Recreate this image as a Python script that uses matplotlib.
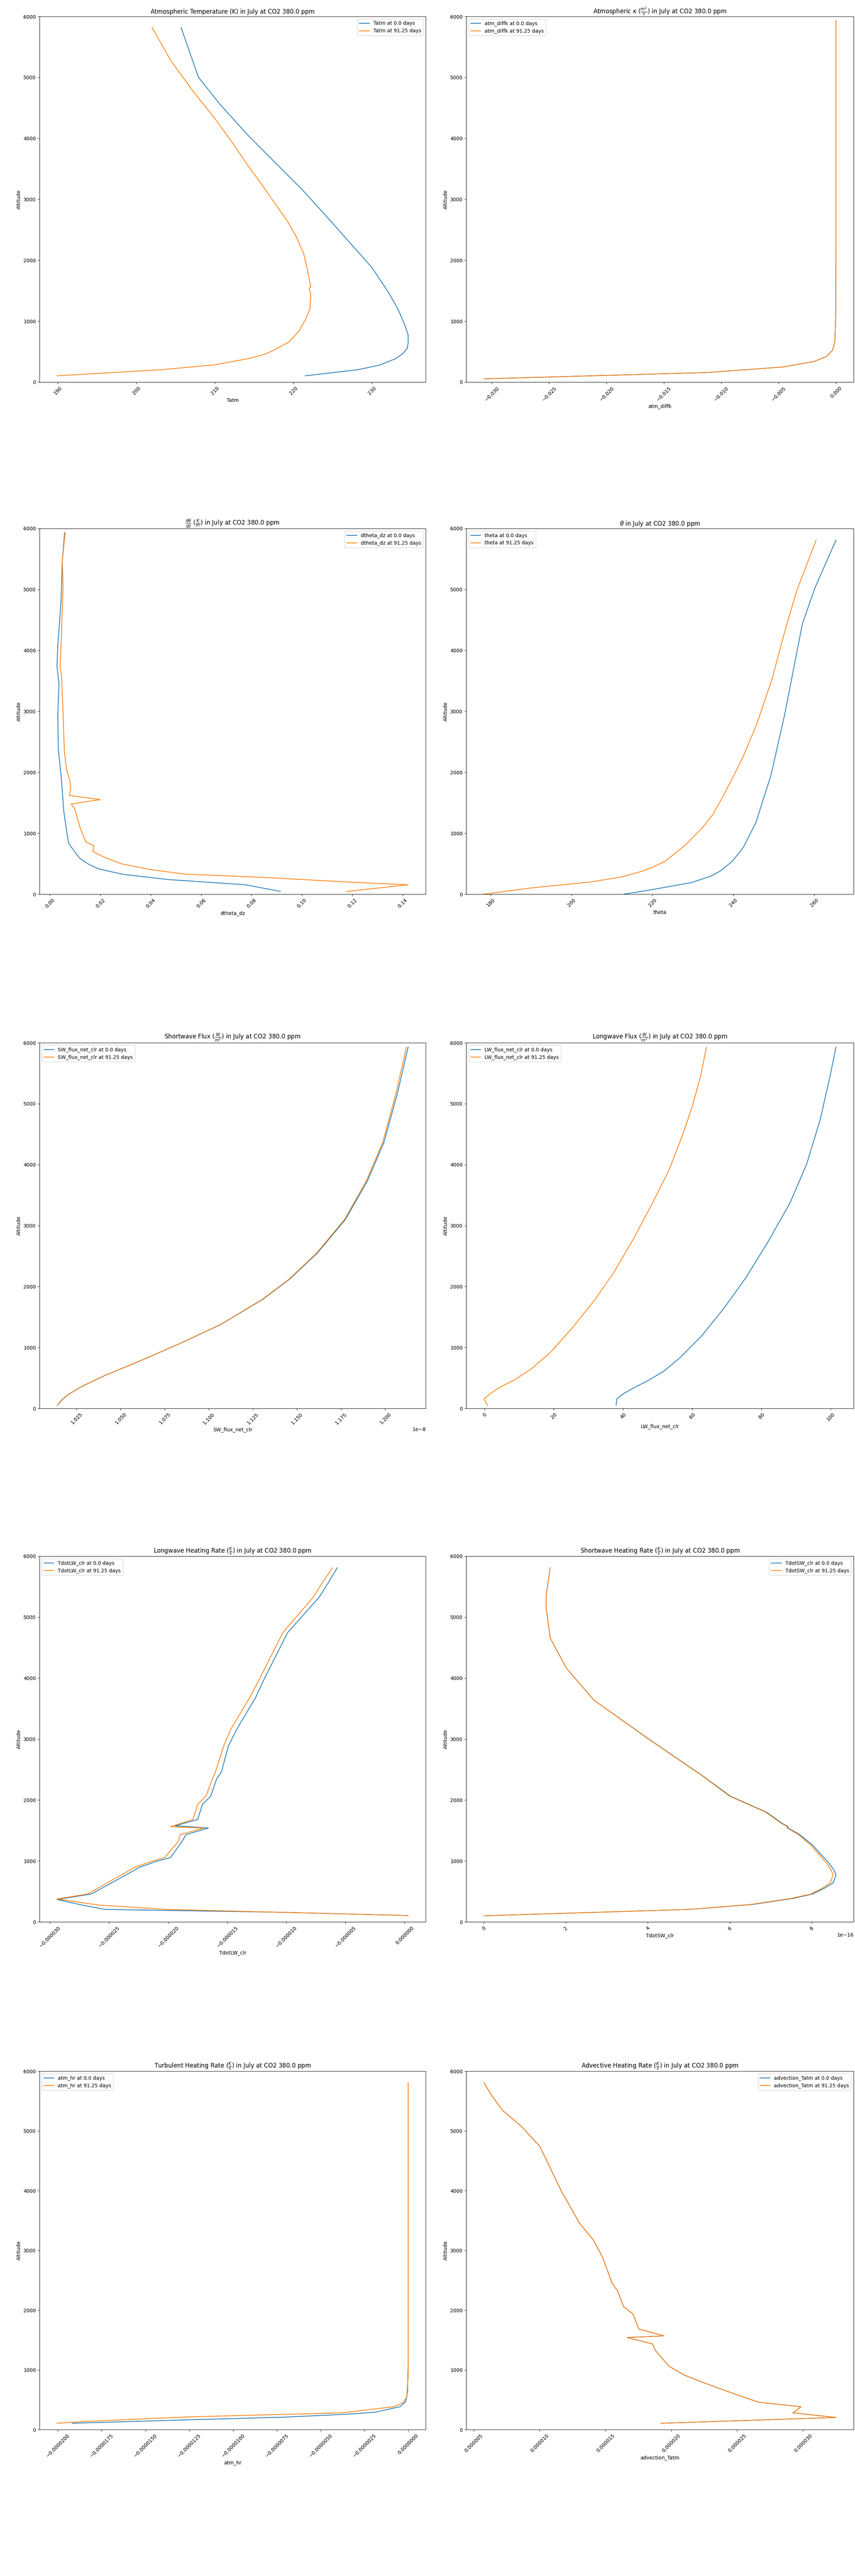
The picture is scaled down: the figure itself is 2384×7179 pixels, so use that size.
import numpy as np
import matplotlib
matplotlib.use("Agg")
import matplotlib.pyplot as plt

# older matplotlib default: plain numbers down to 1e-7
plt.rcParams['axes.formatter.limits'] = [-7, 7]

W, H = 2384, 7179
TAIL = " in July at CO2 380.0 ppm"

# Tatm
z_tatm0 = [104, 204, 281, 385, 466, 557, 657, 770, 928, 1200, 1472, 1879, 2242, 2649, 3147, 3600, 4053, 4551, 5004, 5819]
tatm0 = [221.5, 228.2, 231.0, 233.0, 233.9, 234.5, 234.6, 234.6, 234.2, 233.3, 232.1, 230.0, 227.5, 224.7, 221.2, 217.7, 214.2, 210.7, 207.9, 205.7]
z_tatm1 = [104, 204, 285, 385, 462, 566, 657, 838, 1019, 1200, 1449, 1540, 1562, 1834, 2106, 2377, 2649, 2921, 3238, 3555, 3917, 4325, 4777, 5275, 5819]
tatm1 = [189.9, 203.2, 210.0, 214.2, 216.5, 218.1, 219.4, 220.7, 221.5, 222.1, 222.2, 222.0, 222.2, 221.8, 221.3, 220.4, 219.2, 217.7, 216.0, 214.2, 212.3, 210.0, 207.2, 204.4, 202.0]

# atm_diffk
z_diffk = [54, 158, 249, 340, 421, 521, 657, 1064, 2195, 5932]
diffk0 = [-0.0307, -0.0112, -0.0046, -0.0019, -0.00084, -0.0003, -0.0001, -0.00002, 0.0, 0.0]
diffk1 = [-0.0307, -0.0112, -0.0046, -0.0019, -0.00084, -0.0003, -0.0001, -0.00002, 0.0, 0.0]

# dtheta_dz
z_dth0 = [45, 154, 240, 326, 417, 498, 589, 725, 838, 1042, 1358, 1857, 2400, 2943, 3441, 3735, 4075, 4800, 5456, 5932]
dth0 = [0.0915, 0.0777, 0.0470, 0.0290, 0.0191, 0.0151, 0.0118, 0.0093, 0.0074, 0.0066, 0.0055, 0.0046, 0.0033, 0.0031, 0.0036, 0.0028, 0.0031, 0.0044, 0.0049, 0.0058]
z_dth1 = [45, 154, 195, 272, 331, 408, 498, 611, 702, 792, 860, 1086, 1403, 1480, 1552, 1620, 1743, 1865, 2037, 2354, 2988, 3577, 3735, 4075, 5049, 5456, 5932]
dth1 = [0.1178, 0.1422, 0.1203, 0.0864, 0.0530, 0.0394, 0.0284, 0.0213, 0.0170, 0.0175, 0.0142, 0.0120, 0.0098, 0.0084, 0.0200, 0.0077, 0.0082, 0.0079, 0.0066, 0.0057, 0.0052, 0.0046, 0.0040, 0.0044, 0.0052, 0.0049, 0.0060]

# theta
z_th0 = [0, 77, 190, 294, 385, 543, 770, 1177, 1947, 2943, 3622, 4438, 5027, 5811]
theta0 = [213.0, 220.1, 229.6, 234.4, 236.9, 239.8, 242.5, 245.6, 249.3, 252.7, 254.7, 257.1, 260.2, 265.4]
z_th1 = [0, 104, 167, 199, 281, 376, 444, 543, 815, 1087, 1313, 1562, 1902, 2265, 2808, 3532, 4302, 4981, 5811]
theta1 = [178.3, 190.2, 199.7, 204.5, 212.3, 217.4, 220.1, 223.2, 228.3, 232.3, 235.0, 237.1, 239.8, 242.5, 245.9, 249.6, 252.7, 255.7, 260.5]

# SW_flux_net_clr (x 1e-8)
z_swf = [50, 154, 235, 367, 539, 765, 1060, 1377, 1785, 2124, 2554, 3098, 3732, 4366, 5180, 5928]
swf0 = [1.0142, 1.0173, 1.0208, 1.0286, 1.0411, 1.0600, 1.0834, 1.1069, 1.1304, 1.1460, 1.1617, 1.1774, 1.1899, 1.1993, 1.2070, 1.2130]
swf1 = [1.0140, 1.0171, 1.0206, 1.0284, 1.0409, 1.0598, 1.0832, 1.1067, 1.1301, 1.1457, 1.1613, 1.1769, 1.1893, 1.1986, 1.2062, 1.2120]

# LW_flux_net_clr
z_lwf = [50, 154, 245, 358, 449, 607, 833, 1196, 1648, 2146, 2735, 3369, 4003, 4728, 5452, 5928]
lwf0 = [38.0, 38.2, 40.2, 43.8, 47.0, 51.7, 56.5, 62.8, 69.2, 75.5, 81.9, 88.2, 93.0, 96.9, 99.8, 101.5]
z_lwf1 = [50, 154, 245, 358, 471, 652, 924, 1331, 1785, 2237, 2780, 3369, 3912, 4501, 4954, 5452, 5928]
lwf1 = [0.9, -0.2, 1.7, 4.8, 8.8, 13.6, 19.1, 25.5, 31.9, 37.4, 43.0, 48.5, 53.3, 57.3, 60.0, 62.4, 64.1]

# TdotLW_clr (x 1e-6)
z_lwhr0 = [104, 159, 204, 276, 367, 457, 670, 897, 987, 1055, 1327, 1431, 1540, 1576, 1680, 1929, 2061, 2346, 2459, 2889, 3160, 3681, 3975, 4745, 5334, 5583, 5810]
lwhr0 = [0.3, -10.9, -25.3, -27.3, -29.4, -26.5, -24.5, -22.4, -21.1, -19.8, -18.8, -18.5, -16.6, -19.4, -17.5, -17.1, -16.4, -15.9, -15.5, -14.9, -14.2, -12.6, -11.9, -9.9, -7.2, -6.4, -5.7]
z_lwhr1 = [104, 204, 276, 376, 457, 657, 897, 987, 1055, 1327, 1431, 1540, 1562, 1680, 1929, 2061, 2323, 2459, 2889, 3160, 3681, 3975, 4745, 5334, 5583, 5810]
lwhr1 = [0.3, -20.1, -25.9, -29.4, -26.8, -25.0, -22.8, -21.5, -20.3, -19.1, -19.0, -17.0, -19.8, -17.9, -17.5, -16.8, -16.3, -16.0, -15.3, -14.7, -13.1, -12.3, -10.3, -7.7, -6.9, -6.1]

# TdotSW_clr (x 1e-16)
z_swhr = [100, 204, 285, 385, 457, 557, 639, 770, 842, 965, 1259, 1440, 1540, 1567, 1612, 1802, 2061, 2391, 3002, 3636, 4157, 4655, 5153, 5357, 5810]
swhr0 = [0.0, 5.02, 6.55, 7.55, 8.02, 8.32, 8.52, 8.59, 8.55, 8.42, 8.02, 7.69, 7.42, 7.42, 7.29, 6.89, 6.02, 5.35, 4.02, 2.69, 2.02, 1.62, 1.52, 1.52, 1.62]
swhr1 = [0.0, 5.00, 6.50, 7.50, 7.98, 8.27, 8.45, 8.52, 8.48, 8.36, 7.98, 7.66, 7.40, 7.40, 7.27, 6.87, 6.00, 5.34, 4.01, 2.69, 2.02, 1.62, 1.52, 1.52, 1.62]

# atm_hr (x 1e-6)
z_hr0 = [106, 166, 208, 258, 291, 383, 461, 545, 660, 1122, 5806]
hr0 = [-19.18, -12.28, -7.09, -3.46, -1.89, -0.47, -0.16, -0.08, -0.03, 0.0, 0.0]
z_hr1 = [106, 134, 212, 281, 351, 383, 452, 545, 891, 5806]
hr1 = [-20.05, -18.58, -12.6, -3.78, -1.73, -0.82, -0.28, -0.08, 0.0, 0.0]

# advection_Tatm (x 1e-6)
z_adv = [106, 203, 281, 383, 457, 660, 798, 914, 1061, 1329, 1435, 1541, 1569, 1684, 1929, 2058, 2321, 2460, 2875, 3175, 3452, 3821, 3983, 4744, 5090, 5344, 5575, 5806]
adv = [19.24, 32.5, 29.23, 29.85, 26.65, 24.0, 22.3, 20.97, 19.82, 18.78, 18.57, 16.65, 19.45, 17.53, 17.11, 16.38, 15.92, 15.48, 14.81, 14.08, 13.04, 12.1, 11.68, 10.01, 8.55, 7.19, 6.42, 5.77]

panels = [
    ("Tatm", "Atmospheric Temperature (K)", (z_tatm0, tatm0), (z_tatm1, tatm1), 1, "upper right"),
    ("atm_diffk", r"Atmospheric $\kappa$ ($\frac{m^2}{s}$)", (z_diffk, diffk0), (z_diffk, diffk1), 1, "upper left"),
    ("dtheta_dz", r"$\frac{d\theta}{dz}$ ($\frac{K}{m}$)", (z_dth0, dth0), (z_dth1, dth1), 1, "upper right"),
    ("theta", r"$\theta$", (z_th0, theta0), (z_th1, theta1), 1, "upper left"),
    ("SW_flux_net_clr", r"Shortwave Flux ($\frac{W}{m^2}$)", (z_swf, swf0), (z_swf, swf1), 1e-8, "upper left"),
    ("LW_flux_net_clr", r"Longwave Flux ($\frac{W}{m^2}$)", (z_lwf, lwf0), (z_lwf1, lwf1), 1, "upper left"),
    ("TdotLW_clr", r"Longwave Heating Rate ($\frac{K}{s}$)", (z_lwhr0, lwhr0), (z_lwhr1, lwhr1), 1e-6, "upper left"),
    ("TdotSW_clr", r"Shortwave Heating Rate ($\frac{K}{s}$)", (z_swhr, swhr0), (z_swhr, swhr1), 1e-16, "upper right"),
    ("atm_hr", r"Turbulent Heating Rate ($\frac{K}{s}$)", (z_hr0, hr0), (z_hr1, hr1), 1e-6, "upper left"),
    ("advection_Tatm", r"Advective Heating Rate ($\frac{K}{s}$)", (z_adv, adv), (z_adv, adv), 1e-6, "upper right"),
]

# axes boxes in pixels: (top, bottom) per row
rows = [(46, 1065), (1473, 2492), (2906, 3925), (4337, 5356), (5772, 6771)]
cols = [(110, 1187), (1300, 2380)]

fig = plt.figure(figsize=(W / 100, H / 100), dpi=100)
for i, (var, title, s0, s1, scale, loc) in enumerate(panels):
    top, bot = rows[i // 2]
    left, right = cols[i % 2]
    ax = fig.add_axes([left / W, 1 - bot / H, (right - left) / W, (bot - top) / H])
    ax.plot(np.array(s0[1]) * scale, s0[0], label=var + " at 0.0 days")
    ax.plot(np.array(s1[1]) * scale, s1[0], label=var + " at 91.25 days")
    ax.set_ylim(0, 6000)
    ax.set_title(title + TAIL)
    ax.set_xlabel(var)
    ax.set_ylabel("Altitude")
    ax.tick_params(axis="x", labelrotation=45)
    ax.legend(loc=loc)

fig.savefig("out.png", dpi=100)
